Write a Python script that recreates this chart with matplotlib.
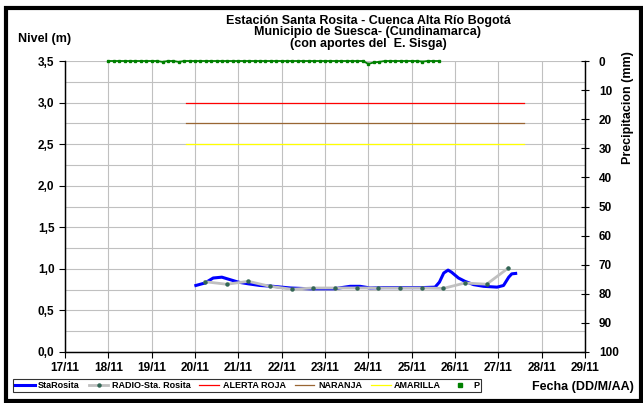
import numpy as np
import matplotlib.pyplot as plt
from matplotlib.patches import Rectangle
from matplotlib.lines import Line2D

plt.rcParams['font.family'] = ['Liberation Sans', 'DejaVu Sans']
plt.rcParams['font.weight'] = 'bold'

# Data (day of November)
sta_t = [20.02, 20.23, 20.42, 20.62, 20.81, 21.0, 21.23, 21.5, 21.8, 22.2,
         22.66, 23.2, 23.58, 23.81, 24.04, 24.35, 24.8, 25.27, 25.54, 25.64,
         25.74, 25.84, 25.92, 26.08, 26.23, 26.43, 26.66, 26.97, 27.12,
         27.24, 27.31, 27.4]
sta_v = [0.80, 0.83, 0.89, 0.90, 0.87, 0.84, 0.82, 0.80, 0.79, 0.77,
         0.76, 0.76, 0.79, 0.79, 0.77, 0.775, 0.775, 0.775, 0.78, 0.84,
         0.95, 0.985, 0.96, 0.89, 0.85, 0.81, 0.79, 0.78, 0.80,
         0.90, 0.94, 0.945]

radio_t = [20.23, 20.73, 21.23, 21.73, 22.23, 22.73, 23.23, 23.73, 24.23,
           24.73, 25.23, 25.73, 26.23, 26.73, 27.23]
radio_v = [0.845, 0.815, 0.85, 0.79, 0.755, 0.77, 0.77, 0.77, 0.77,
           0.77, 0.77, 0.765, 0.83, 0.815, 1.01]

alert_t = [19.8, 27.6]
roja = [3.0, 3.0]
naranja = [2.75, 2.75]
amarilla = [2.5, 2.5]

# precipitation every 3 h from 18/11
p_t = np.arange(18.0, 25.63, 0.125)
p_v = [0, 0, 0, 0, 0, 0, 0, 0, 0, 0,
       0.3, 0, 0, 0.3, 0, 0, 0, 0, 0, 0,
       0, 0, 0, 0, 0, 0, 0, 0, 0, 0,
       0, 0, 0, 0, 0, 0, 0, 0, 0, 0,
       0, 0, 0, 0, 0, 0, 0, 0, 1.0, 0.5,
       0.3, 0, 0, 0, 0, 0, 0, 0, 0.2, 0,
       0, 0]

days = list(range(17, 30))
day_labels = [str(d) + '/11' for d in days]

title = ('Estación Santa Rosita - Cuenca Alta Río Bogotá\n'
         'Municipio de Suesca- (Cundinamarca)\n'
         '(con aportes del  E. Sisga)')

fig = plt.figure(figsize=(6.43, 4.03), dpi=100)
ax = fig.add_axes([65/643, 1-352/403, 520/643, 291/403])
ax2 = ax.twinx()

ax.plot(sta_t, sta_v, color='#0000FF', lw=2.2, label='StaRosita', zorder=3)
ax.plot(radio_t, radio_v, color='#C0C0C0', lw=2.0, marker='o', ms=2.2,
        mfc='#336655', mec='#336655', label='RADIO-Sta. Rosita', zorder=4)
ax.plot(alert_t, roja, color='#FF0000', lw=0.9, label='ALERTA ROJA')
ax.plot(alert_t, naranja, color='#996633', lw=0.9, label='NARANJA')
ax.plot(alert_t, amarilla, color='#FFFF00', lw=0.9, label='AMARILLA')
ax2.plot(p_t, p_v, ls='-', lw=1.3, marker='s', ms=1.8, color='#008000',
         mec='#008000', clip_on=False)
p_handle = Line2D([], [], ls='none', marker='s', ms=2.2, color='#008000',
                  label='P')

ax.set_xlim(17, 29)
ax.set_ylim(0, 3.5)
ax.set_xticks(days)
ax.set_xticklabels(day_labels)
ax.set_yticks(np.arange(0, 3.51, 0.5))
ax.set_yticklabels([('%.1f' % v).replace('.', ',') for v in np.arange(0, 3.51, 0.5)])
ax.set_yticks(np.arange(0, 3.51, 0.25), minor=True)
ax.grid(which='both', color='#C0C0C0', lw=0.8)
ax.set_axisbelow(True)
ax.tick_params(axis='y', which='minor', length=0)
ax.tick_params(axis='both', which='major', labelsize=8.5, length=4,
               direction='out', color='black')
ax.tick_params(axis='x', pad=3)

ax2.set_ylim(100, 0)
ax2.set_yticks(range(0, 101, 10))
ax2.tick_params(axis='y', labelsize=8.5, length=6, direction='inout', pad=7)

for a in (ax, ax2):
    a.spines['top'].set_visible(False)
    for s in ('left', 'right', 'bottom'):
        a.spines[s].set_color('black')
        a.spines[s].set_linewidth(0.9)

fig.text(368/643, 1-32.5/403, title, ha='center', va='center',
         multialignment='center', fontsize=9, linespacing=0.9)
fig.text(18/643, 1-39/403, 'Nivel (m)', ha='left', va='center', fontsize=9)
fig.text(628/643, 1-108/403, 'Precipitacion (mm)', rotation=90,
         ha='center', va='center', fontsize=9)
fig.text(583/643, 1-387/403, 'Fecha (DD/M/AA)', ha='center', va='center',
         fontsize=9)

h1, l1 = ax.get_legend_handles_labels()
leg = fig.legend(h1 + [p_handle], l1 + ['P'], ncol=6, loc='center',
                 bbox_to_anchor=(8/643, 1-393/403, 478/643, 15/403),
                 mode='expand', fontsize=6.5, frameon=True, fancybox=False,
                 edgecolor='black', handlelength=2.2, handletextpad=0.4,
                 borderpad=0.25, columnspacing=0.8)
leg.get_frame().set_linewidth(0.8)

fig.patches.append(Rectangle((5.5/643, 2/403), 635/643, 393/403,
                             transform=fig.transFigure, fill=False,
                             edgecolor='black', lw=3))

plt.savefig('out.png', dpi=100)
